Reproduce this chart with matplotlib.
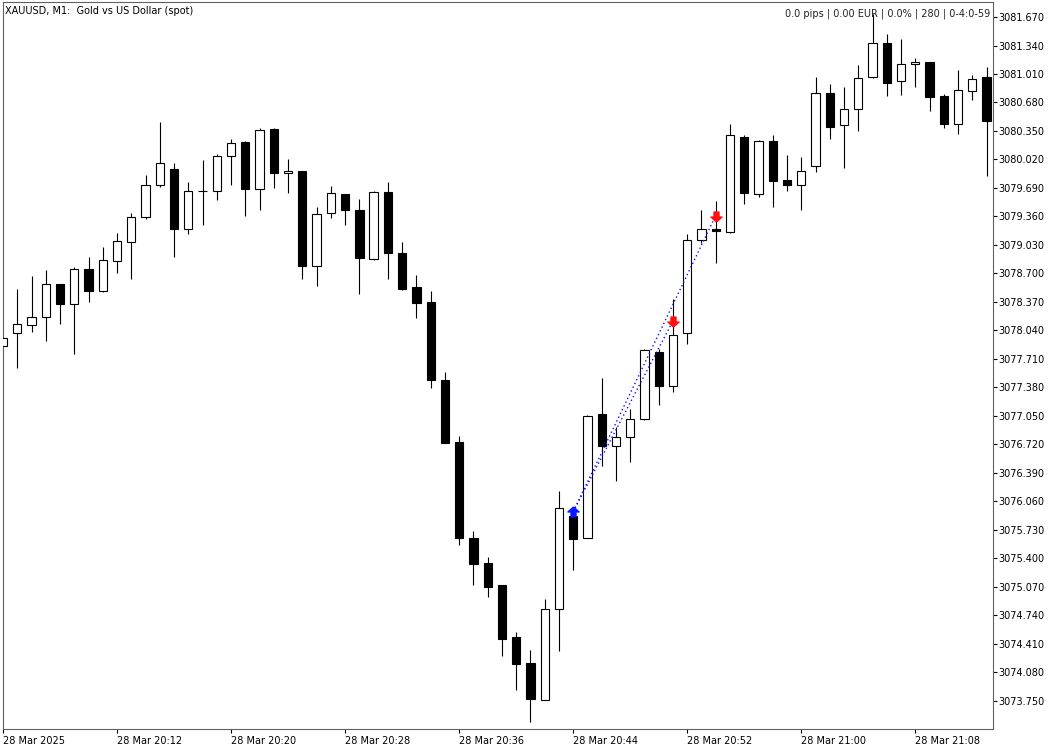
import numpy as np
import matplotlib.pyplot as plt
from matplotlib.path import Path

plt.rcParams["font.family"] = ["DejaVu Sans"]

# XAUUSD M1 candles, 20:04 .. 21:13
opens = [3077.86, 3078.01, 3078.10, 3078.20, 3078.58, 3078.35, 3078.75, 3078.50, 3078.84, 3079.06,
         3079.35, 3079.72, 3079.91, 3079.21, 3079.65, 3079.66, 3080.06, 3080.22, 3079.68, 3080.37,
         3079.86, 3079.89, 3078.79, 3079.40, 3079.62, 3079.44, 3078.87, 3079.64, 3078.94, 3078.54,
         3078.37, 3077.47, 3076.75, 3075.64, 3075.34, 3075.09, 3074.49, 3074.19, 3073.76, 3074.81,
         3075.89, 3075.64, 3077.07, 3076.70, 3076.81, 3077.01, 3077.79, 3077.40, 3078.01, 3079.09,
         3079.22, 3079.18, 3080.28, 3079.62, 3080.23, 3079.78, 3079.72, 3079.94, 3080.79, 3080.42,
         3080.61, 3080.97, 3081.37, 3080.93, 3081.13, 3081.15, 3080.75, 3080.43, 3080.81, 3080.98]
highs = [3077.95, 3078.52, 3078.67, 3078.74, 3078.58, 3078.77, 3078.89, 3079.01, 3079.17, 3079.40,
         3079.84, 3080.45, 3079.98, 3079.76, 3080.01, 3080.08, 3080.26, 3080.23, 3080.38, 3080.38,
         3080.03, 3079.89, 3079.47, 3079.71, 3079.62, 3079.56, 3079.66, 3079.76, 3079.06, 3078.68,
         3078.50, 3077.56, 3076.82, 3075.72, 3075.42, 3075.09, 3074.55, 3074.34, 3074.93, 3076.18,
         3075.92, 3077.06, 3077.49, 3076.92, 3077.13, 3077.82, 3077.83, 3078.40, 3079.16, 3079.44,
         3079.54, 3080.43, 3080.30, 3080.25, 3080.30, 3080.07, 3080.05, 3080.98, 3080.89, 3080.86,
         3081.12, 3081.71, 3081.47, 3081.42, 3081.19, 3081.15, 3080.78, 3081.06, 3081.00, 3081.09]
lows = [3077.86, 3077.60, 3078.02, 3077.92, 3078.11, 3077.77, 3078.37, 3078.48, 3078.70, 3078.64,
        3079.33, 3079.70, 3078.89, 3079.16, 3079.26, 3079.55, 3079.72, 3079.36, 3079.44, 3079.69,
        3079.63, 3078.63, 3078.55, 3079.34, 3079.26, 3078.46, 3078.86, 3078.64, 3078.51, 3078.18,
        3077.37, 3076.73, 3075.55, 3075.09, 3074.95, 3074.27, 3073.87, 3073.50, 3073.76, 3074.33,
        3075.26, 3075.63, 3076.47, 3076.29, 3076.52, 3077.00, 3077.18, 3077.33, 3077.88, 3079.05,
        3078.82, 3079.17, 3079.50, 3079.59, 3079.47, 3079.65, 3079.43, 3079.87, 3080.26, 3079.92,
        3080.35, 3080.96, 3080.75, 3080.77, 3080.86, 3080.58, 3080.38, 3080.32, 3080.71, 3079.83]
closes = [3077.95, 3078.11, 3078.20, 3078.58, 3078.35, 3078.75, 3078.50, 3078.85, 3079.07, 3079.35,
          3079.72, 3079.98, 3079.21, 3079.65, 3079.65, 3080.06, 3080.21, 3079.68, 3080.36, 3079.86,
          3079.89, 3078.79, 3079.39, 3079.63, 3079.44, 3078.88, 3079.64, 3078.94, 3078.52, 3078.36,
          3077.47, 3076.74, 3075.64, 3075.33, 3075.07, 3074.47, 3074.17, 3073.77, 3074.81, 3075.98,
          3075.62, 3077.05, 3076.70, 3076.81, 3077.01, 3077.81, 3077.40, 3077.99, 3079.09, 3079.21,
          3079.19, 3080.30, 3079.63, 3080.23, 3079.77, 3079.72, 3079.89, 3080.79, 3080.40, 3080.61,
          3080.96, 3081.37, 3080.91, 3081.13, 3081.15, 3080.74, 3080.43, 3080.82, 3080.95, 3080.46]

# trades: one buy, two exits
entry_bar = 40
entry_price = 3075.94
exit_bars = [47, 50]
exit_prices = [3078.15, 3079.37]

time_ticks = [0, 8, 16, 24, 32, 40, 48, 56, 64]
time_labels = ["28 Mar 2025", "28 Mar 20:12", "28 Mar 20:20", "28 Mar 20:28", "28 Mar 20:36",
               "28 Mar 20:44", "28 Mar 20:52", "28 Mar 21:00", "28 Mar 21:08"]
price_ticks = [3073.75 + 0.33 * i for i in range(25)]

o = np.array(opens)
h = np.array(highs)
l = np.array(lows)
c = np.array(closes)
x = np.arange(len(o))
up = c >= o

fig = plt.figure(figsize=(10.62, 7.5), dpi=100)
ax = fig.add_axes([3 / 1062, 21 / 750, 990 / 1062, 727 / 750])

ax.vlines(x, l, h, color="black", lw=0.8, zorder=2)
ax.bar(x[up], (c - o)[up], bottom=o[up], width=0.58, facecolor="white",
       edgecolor="black", lw=0.8, zorder=3)
ax.bar(x[~up], (o - c)[~up], bottom=c[~up], width=0.58, facecolor="black",
       edgecolor="black", lw=0.8, zorder=3)

# trade lines and arrows
for xb, p in zip(exit_bars, exit_prices):
    ax.plot([entry_bar, xb], [entry_price, p], color="#1010ff", lw=1,
            ls=(0, (1, 2)), zorder=4)

up_arrow = Path([(0, 1), (1, 0.1), (0.45, 0.1), (0.45, -0.8), (-0.45, -0.8),
                 (-0.45, 0.1), (-1, 0.1), (0, 1)])
down_arrow = Path([(px, -py) for px, py in up_arrow.vertices])
ax.plot([entry_bar], [entry_price], marker=up_arrow, ms=8, color="#0a1aff",
        mec="#0a1aff", ls="none", zorder=5)
ax.plot(exit_bars, exit_prices, marker=down_arrow, ms=8, color="#ff1010",
        mec="#ff1010", ls="none", zorder=5)

ax.set_xlim(0.05, 69.45)
ax.set_ylim(3073.4226, 3081.844)

ax.yaxis.tick_right()
ax.set_yticks(price_ticks)
ax.set_yticklabels([f"{v:.3f}" for v in price_ticks])
ax.set_xticks(time_ticks)
ax.set_xticklabels(time_labels, ha="left")
ax.tick_params(axis="y", direction="out", length=3, width=0.8, pad=1,
               labelsize=7, colors="black")
ax.tick_params(axis="x", direction="out", length=3, width=0.8, pad=2,
               labelsize=7, colors="black")
for s in ax.spines.values():
    s.set_color("#606060")
    s.set_linewidth(0.8)

fig.text(5 / 1062, 1 - 11 / 750, "XAUUSD, M1:  Gold vs US Dollar (spot)",
         fontsize=7, va="center", ha="left")
fig.text(990 / 1062, 1 - 14 / 750, "0.0 pips | 0.00 EUR | 0.0% | 280 | 0-4:0-59",
         fontsize=7, va="center", ha="right", color="#222222")

fig.savefig("out.png", dpi=100)
